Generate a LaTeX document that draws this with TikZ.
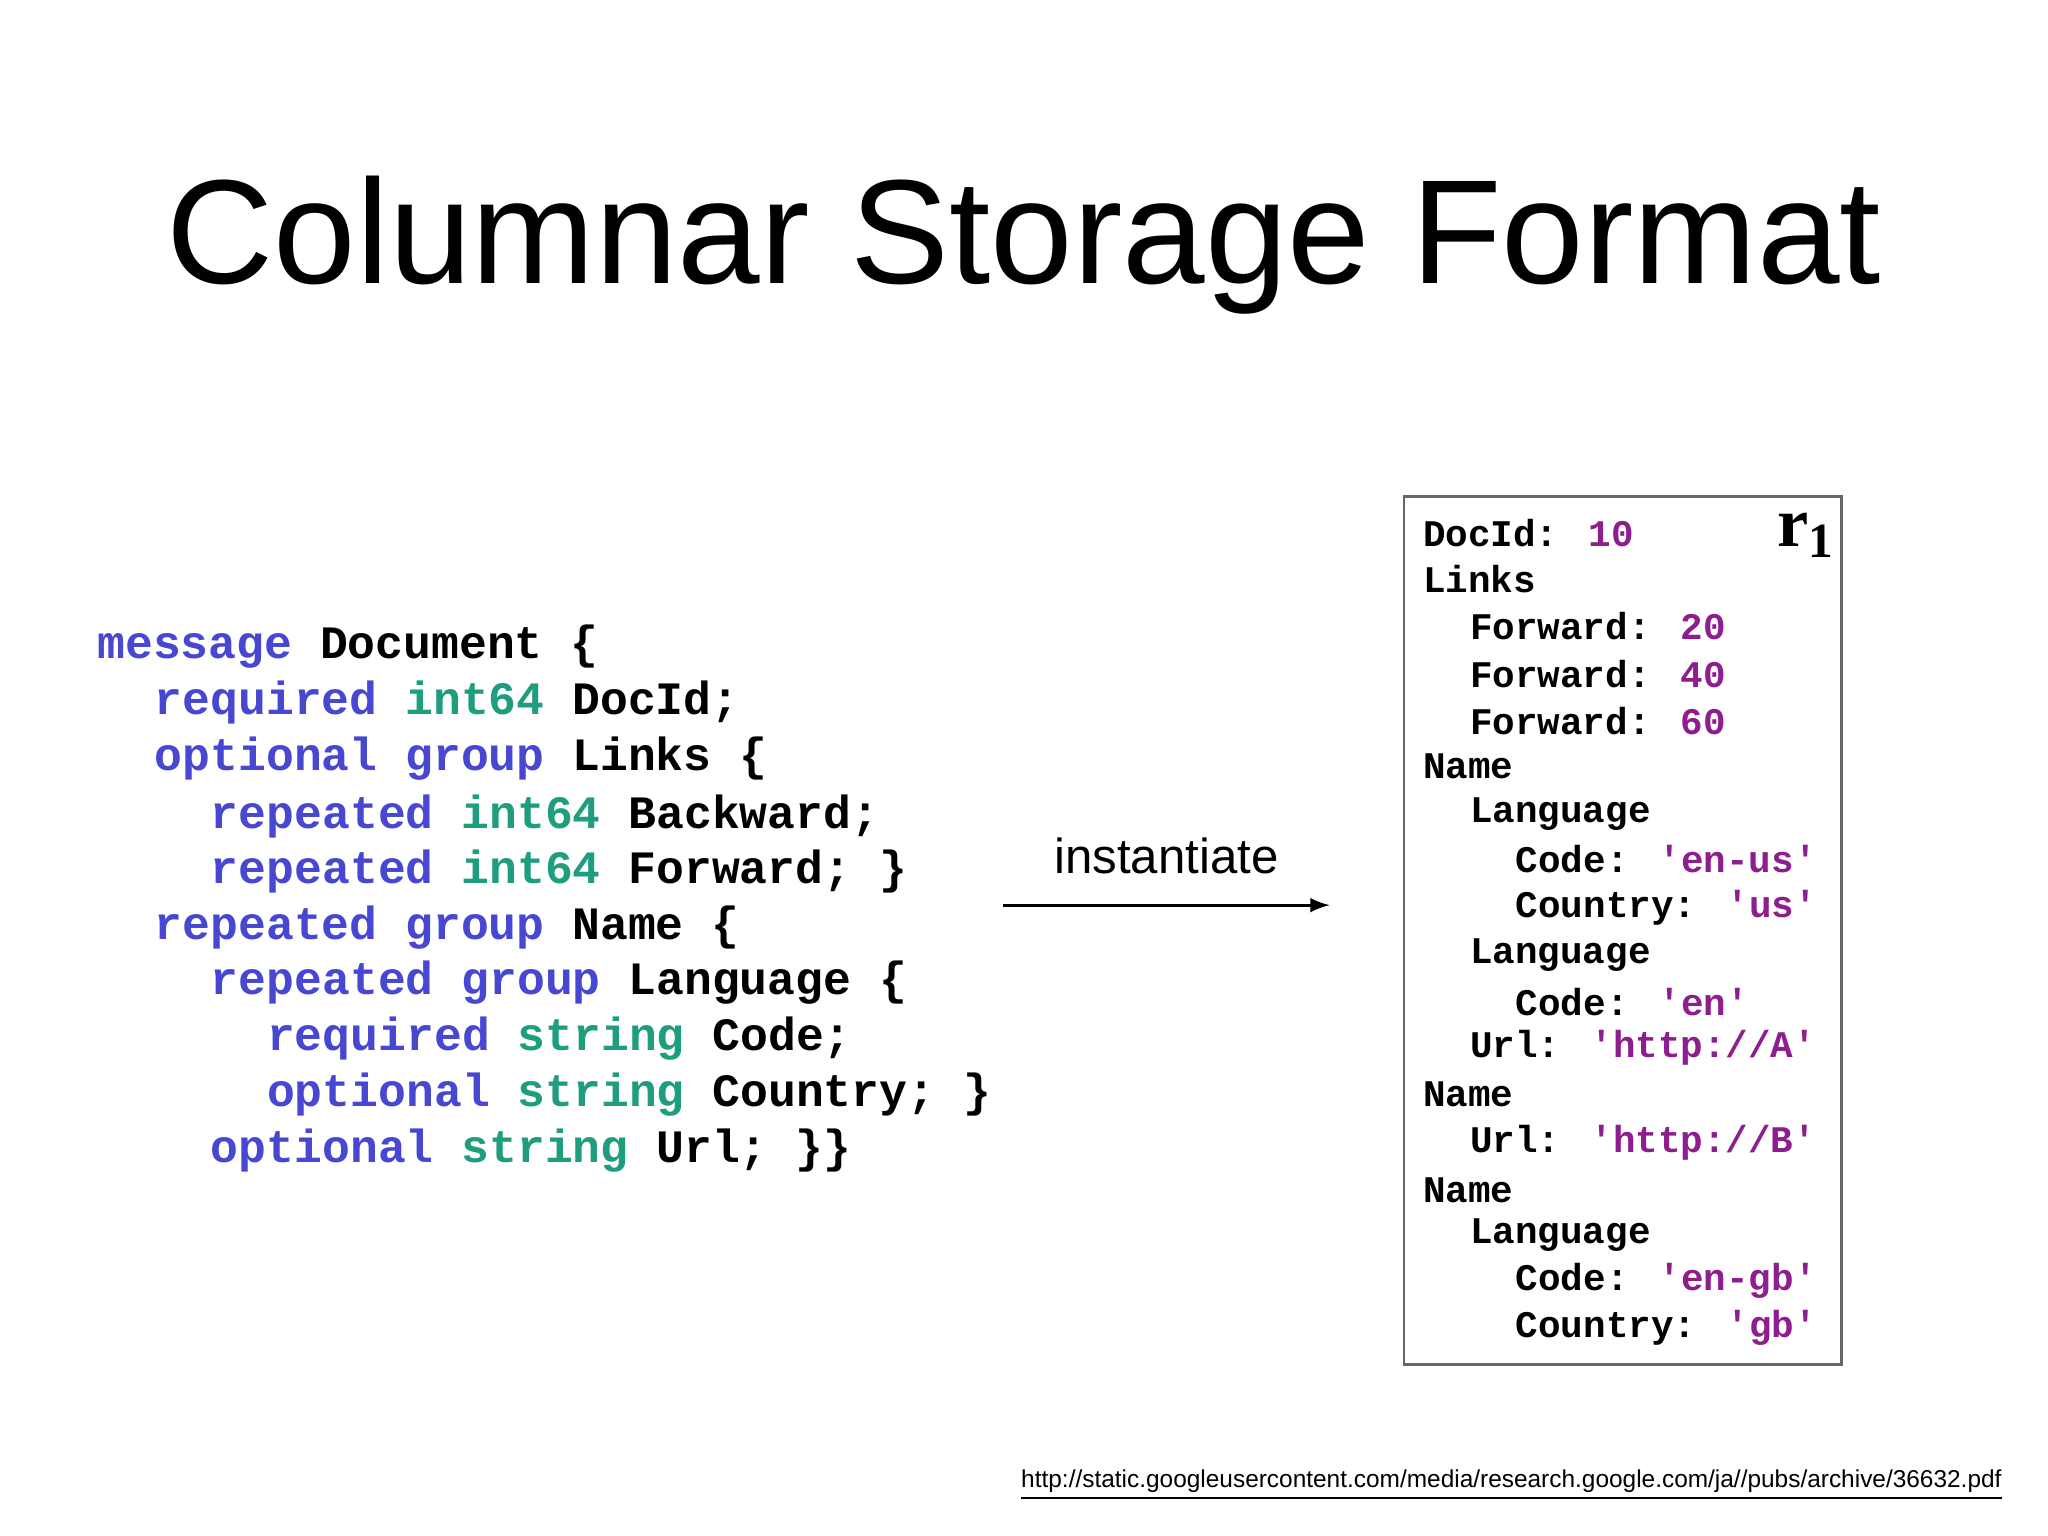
\documentclass[tikz,border=0pt]{standalone}
\usepackage{fontspec}
\setmainfont{Liberation Sans}
\newfontfamily\codefont{Liberation Mono}
\newfontfamily\serifbf{Liberation Serif}
\definecolor{kw}{HTML}{4747D1}
\definecolor{ty}{HTML}{1E9E7E}
\definecolor{vl}{HTML}{8E1E8E}
\newcommand\Kw[1]{\textcolor{kw}{#1}}
\newcommand\Ty[1]{\textcolor{ty}{#1}}
\newcommand\Vl[1]{\textcolor{vl}{#1}}
\begin{document}
\begin{tikzpicture}[x=0.013061cm,y=-0.013061cm,
  code/.style={anchor=west,inner sep=0pt,font=\codefont\bfseries\fontsize{13.2}{15}\selectfont},
  rec/.style={anchor=west,inner sep=0pt,font=\codefont\bfseries\fontsize{10.7}{13}\selectfont}]
\useasboundingbox[fill=white] (0,0) rectangle (1568,1176);
\node[inner sep=0pt,font=\fontsize{42.2}{48}\selectfont] (title) at (784,188) {Columnar Storage Format};
% schema
\node[code] (c1) at (74,495) {\Kw{message} Document \{};
\node[code] (c2) at (118,538) {\Kw{required} \Ty{int64} DocId;};
\node[code] (c3) at (118,581) {\Kw{optional} \Kw{group} Links \{};
\node[code] (c4) at (161,625) {\Kw{repeated} \Ty{int64} Backward;};
\node[code] (c5) at (161,667) {\Kw{repeated} \Ty{int64} Forward; \}};
\node[code] (c6) at (118,710) {\Kw{repeated} \Kw{group} Name \{};
\node[code] (c7) at (161,752) {\Kw{repeated} \Kw{group} Language \{};
\node[code] (c8) at (204,795) {\Kw{required} \Ty{string} Code;};
\node[code] (c9) at (204,838) {\Kw{optional} \Ty{string} Country; \}};
\node[code] (c10) at (161,881) {\Kw{optional} \Ty{string} Url; \}\}};
% arrow
\node[inner sep=0pt,font=\fontsize{14}{16}\selectfont] (lab) at (893,655) {instantiate};
\coordinate (a1) at (768,693);
\coordinate (a2) at (1018,693);
\draw[line width=0.9pt,-latex] (a1) -- (a2);
% record
\draw[draw=gray!80!black,line width=0.8pt] (1075,380) rectangle (1410,1045);
\node[anchor=center,inner sep=0pt,font=\serifbf\bfseries\fontsize{20}{22}\selectfont] (r1) at (1383,410) {r\textsubscript{1}};
\node[rec] (d1) at (1089,408) {DocId: \Vl{10}};
\node[rec] (d2) at (1089,443) {Links};
\node[rec] (d3) at (1125,479) {Forward: \Vl{20}};
\node[rec] (d4) at (1125,516) {Forward: \Vl{40}};
\node[rec] (d5) at (1125,552) {Forward: \Vl{60}};
\node[rec] (d6) at (1089,587) {Name};
\node[rec] (d7) at (1125,623) {Language};
\node[rec] (d8) at (1160,658) {Code: \Vl{'en-us'}};
\node[rec] (d9) at (1160,695) {Country: \Vl{'us'}};
\node[rec] (d10) at (1125,731) {Language};
\node[rec] (d11) at (1160,767) {Code: \Vl{'en'}};
\node[rec] (d12) at (1125,802) {Url: \Vl{'http://A'}};
\node[rec] (d13) at (1089,838) {Name};
\node[rec] (d14) at (1125,875) {Url: \Vl{'http://B'}};
\node[rec] (d15) at (1089,911) {Name};
\node[rec] (d16) at (1125,946) {Language};
\node[rec] (d17) at (1160,981) {Code: \Vl{'en-gb'}};
\node[rec] (d18) at (1160,1017) {Country: \Vl{'gb'}};
% url
\node[anchor=east,inner sep=0pt,font=\fontsize{6.95}{8}\selectfont] (url) at (1533,1137) {\underline{http://static.googleusercontent.com/media/research.google.com/ja//pubs/archive/36632.pdf}};
\end{tikzpicture}
\end{document}
